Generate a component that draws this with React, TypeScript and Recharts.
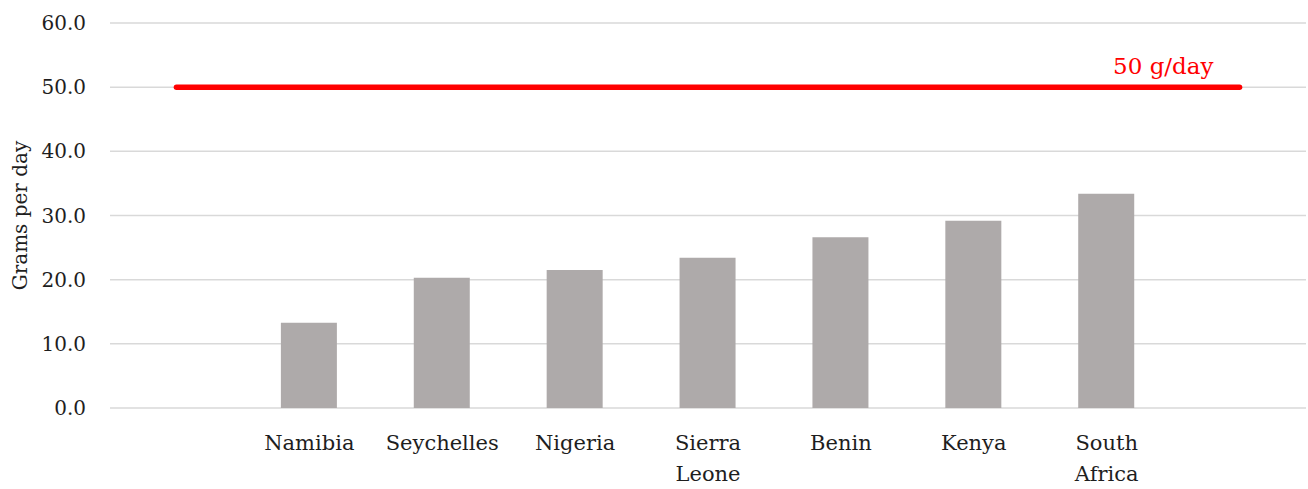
import React from 'react'
import {
  ComposedChart,
  Bar,
  Line,
  XAxis,
  YAxis,
  CartesianGrid,
  Label,
  LabelList
} from 'recharts'

// padded with a blank slot at each end so the guideline overhangs the bars
const countries = ['', 'Namibia', 'Seychelles', 'Nigeria', 'Sierra Leone', 'Benin', 'Kenya', 'South Africa', ' ']
const intake = [null, 13.3, 20.3, 21.5, 23.4, 26.6, 29.2, 33.4, null]
const recommended = [50, 50, 50, 50, 50, 50, 50, 50, 50]
const yTicks = [0, 10, 20, 30, 40, 50, 60]

const data = countries.map((name, i) => ({
  name,
  intake: intake[i],
  recommended: recommended[i]
}))

const FONT = '"DejaVu Serif", "Liberation Serif", serif'

const CountryTick = ({ x, y, payload }: any) => {
  const words = String(payload.value).trim().split(' ').filter(Boolean)
  return (
    <text x={x} y={y} textAnchor="middle" fontFamily={FONT} fontSize={21} fill="#1e1e1e">
      {words.map((w, i) => (
        <tspan key={i} x={x} dy={i === 0 ? 34 : 31}>{w}</tspan>
      ))}
    </text>
  )
}

const TargetLabel = ({ x, y, value, index }: any) => {
  if (index !== recommended.length - 1) return null
  return (
    <text x={x - 26} y={y - 13} textAnchor="end" fontFamily={FONT} fontSize={23} fill="#ff0000">
      {`${value} g/day`}
    </text>
  )
}

const App = () => {
  return (
    <div style={{ position: 'absolute', left: 0, top: 0, background: '#fff' }}>
      <ComposedChart
        width={1308}
        height={489}
        data={data}
        margin={{ top: 23, right: 2, left: 0, bottom: 21 }}
      >
        <CartesianGrid vertical={false} stroke="#d9d9d9" strokeWidth={1.5} />
        <XAxis
          dataKey="name"
          axisLine={false}
          tickLine={false}
          interval={0}
          height={60}
          tick={<CountryTick />}
        />
        <YAxis
          domain={[0, 60]}
          ticks={yTicks}
          width={110}
          axisLine={false}
          tickLine={false}
          tickMargin={18}
          tickFormatter={(v: number) => v.toFixed(1)}
          tick={{ fontFamily: FONT, fontSize: 20, fill: '#1e1e1e' }}
        >
          <Label
            content={({ viewBox }: any) => {
              const cy = viewBox.y + viewBox.height / 2
              return (
                <text
                  x={20}
                  y={cy}
                  transform={`rotate(-90, 20, ${cy})`}
                  textAnchor="middle"
                  dominantBaseline="central"
                  fontFamily={FONT}
                  fontSize={20}
                  fill="#1e1e1e"
                >
                  Grams per day
                </text>
              )
            }}
          />
        </YAxis>
        <Bar dataKey="intake" fill="#aeaaaa" barSize={56} isAnimationActive={false} />
        <Line
          dataKey="recommended"
          stroke="#ff0000"
          strokeWidth={5.5}
          strokeLinecap="round"
          dot={false}
          activeDot={false}
          isAnimationActive={false}
        >
          <LabelList dataKey="recommended" content={<TargetLabel />} />
        </Line>
      </ComposedChart>
    </div>
  )
}

export default App
